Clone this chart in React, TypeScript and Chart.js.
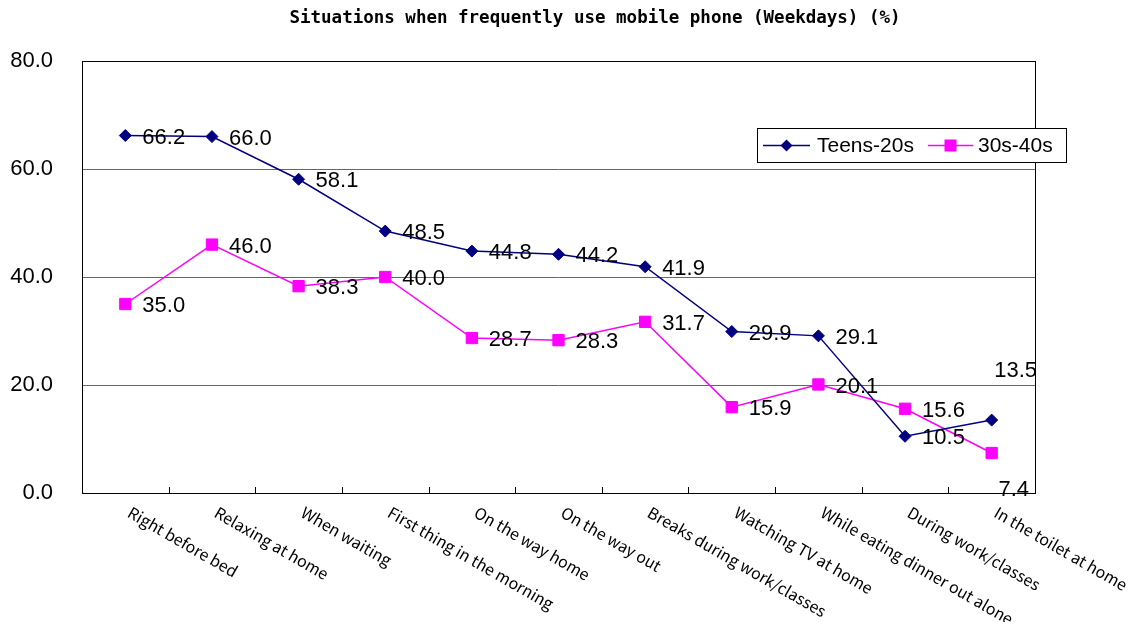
import React, { useEffect, useRef } from "react";
import { Chart, registerables } from "chart.js";

Chart.register(...registerables);

const titleText = "Situations when frequently use mobile phone (Weekdays) (%)";
const categories = [
  "Right before bed",
  "Relaxing at home",
  "When waiting",
  "First thing in the morning",
  "On the way home",
  "On the way out",
  "Breaks during work/classes",
  "Watching TV at home",
  "While eating dinner out alone",
  "During work/classes",
  "In the toilet at home",
];
const teensValues = [66.2, 66.0, 58.1, 48.5, 44.8, 44.2, 41.9, 29.9, 29.1, 10.5, 13.5];
const thirtiesValues = [35.0, 46.0, 38.3, 40.0, 28.7, 28.3, 31.7, 15.9, 20.1, 15.6, 7.4];
const seriesNames = ["Teens-20s", "30s-40s"];
const yMin = 0;
const yMax = 80;
const yStep = 20;

const NAVY = "#000080";
const MAGENTA = "#FF00FF";

const customPlugin = {
  id: "customDraw",
  beforeDatasetsDraw(chart: any) {
    const { ctx, chartArea } = chart;
    const xs = chart.scales.x;
    ctx.save();
    ctx.strokeStyle = "#000";
    ctx.lineWidth = 1;
    ctx.strokeRect(
      Math.round(chartArea.left) + 0.5,
      Math.round(chartArea.top) + 0.5,
      Math.round(chartArea.right - chartArea.left),
      Math.round(chartArea.bottom - chartArea.top)
    );
    for (let i = 1; i < categories.length; i++) {
      const x = Math.round(xs.getPixelForValue(i - 0.5)) + 0.5;
      ctx.beginPath();
      ctx.moveTo(x, chartArea.bottom);
      ctx.lineTo(x, chartArea.bottom - 6);
      ctx.stroke();
    }
    ctx.restore();
  },
  afterDatasetsDraw(chart: any) {
    const { ctx, chartArea } = chart;
    const xs = chart.scales.x;
    ctx.save();

    // data labels
    ctx.fillStyle = "#000";
    ctx.font = "22px 'Liberation Sans', Arial, sans-serif";
    chart.data.datasets.forEach((ds: any, di: number) => {
      const meta = chart.getDatasetMeta(di);
      meta.data.forEach((pt: any, i: number) => {
        const v = ds.data[i];
        const txt = v.toFixed(1);
        const last = i === ds.data.length - 1;
        if (last && di === 0) {
          ctx.textAlign = "center";
          ctx.textBaseline = "middle";
          ctx.fillText(txt, pt.x + 24, pt.y - 49);
        } else if (last && di === 1) {
          ctx.textAlign = "center";
          ctx.textBaseline = "middle";
          ctx.fillText(txt, pt.x + 22, pt.y + 37);
        } else {
          ctx.textAlign = "left";
          ctx.textBaseline = "middle";
          ctx.fillText(txt, pt.x + 17, pt.y + 2);
        }
      });
    });

    // x category labels, rotated clockwise
    ctx.font = "16px 'Noto Sans CJK JP', 'Noto Sans', sans-serif";
    ctx.textAlign = "left";
    ctx.textBaseline = "top";
    categories.forEach((c, i) => {
      const x = xs.getPixelForValue(i);
      ctx.save();
      ctx.translate(x + 8, chartArea.bottom + 11);
      ctx.rotate(Math.PI / 6);
      ctx.fillText(c, 0, 0);
      ctx.restore();
    });

    // title
    ctx.font = "bold 17.5px 'DejaVu Sans Mono', monospace";
    ctx.textAlign = "center";
    ctx.textBaseline = "middle";
    ctx.fillText(titleText, 587, 10);

    // legend
    const bx = 749.5, by = 120.5, bw = 309, bh = 34;
    ctx.fillStyle = "#fff";
    ctx.fillRect(bx, by, bw, bh);
    ctx.strokeStyle = "#000";
    ctx.lineWidth = 1;
    ctx.strokeRect(bx, by, bw, bh);
    const ly = by + bh / 2;
    const items = [
      { x0: 755, x1: 802, tx: 809 },
      { x0: 920, x1: 965, tx: 970 },
    ];
    chart.data.datasets.forEach((ds: any, di: number) => {
      const it = items[di];
      ctx.strokeStyle = ds.borderColor;
      ctx.lineWidth = 1.5;
      ctx.beginPath();
      ctx.moveTo(it.x0, ly);
      ctx.lineTo(it.x1, ly);
      ctx.stroke();
      const cx = (it.x0 + it.x1) / 2;
      ctx.fillStyle = ds.pointBackgroundColor;
      ctx.beginPath();
      if (ds.pointStyle === "rectRot") {
        const r = 6;
        ctx.moveTo(cx, ly - r);
        ctx.lineTo(cx + r, ly);
        ctx.lineTo(cx, ly + r);
        ctx.lineTo(cx - r, ly);
        ctx.closePath();
      } else {
        ctx.rect(cx - 6, ly - 6, 12, 12);
      }
      ctx.fill();
      ctx.fillStyle = "#000";
      ctx.font = "21px 'Liberation Sans', Arial, sans-serif";
      ctx.textAlign = "left";
      ctx.textBaseline = "middle";
      ctx.fillText(ds.label, it.tx, ly + 1);
    });

    ctx.restore();
  },
};

export default function App() {
  const canvasRef = useRef<HTMLCanvasElement | null>(null);

  useEffect(() => {
    if (!canvasRef.current) return;
    const chart = new Chart(canvasRef.current, {
      type: "line",
      data: {
        labels: categories,
        datasets: [
          {
            label: seriesNames[0],
            data: teensValues,
            borderColor: NAVY,
            backgroundColor: NAVY,
            pointBackgroundColor: NAVY,
            pointBorderColor: NAVY,
            pointStyle: "rectRot",
            pointRadius: 6,
            pointBorderWidth: 1,
            borderWidth: 1.5,
            tension: 0,
          },
          {
            label: seriesNames[1],
            data: thirtiesValues,
            borderColor: MAGENTA,
            backgroundColor: MAGENTA,
            pointBackgroundColor: MAGENTA,
            pointBorderColor: MAGENTA,
            pointStyle: "rect",
            pointRadius: 8,
            pointBorderWidth: 1,
            borderWidth: 1.5,
            tension: 0,
          },
        ],
      },
      options: {
        animation: false,
        responsive: true,
        maintainAspectRatio: false,
        layout: { padding: { top: 53, right: 98, left: 0, bottom: 0 } },
        plugins: {
          legend: { display: false },
          title: { display: false },
          tooltip: { enabled: false },
        },
        scales: {
          x: {
            type: "category",
            offset: true,
            grid: { display: false },
            border: { display: false },
            ticks: { display: false },
            afterFit: (s: any) => {
              s.height = 129;
            },
          },
          y: {
            min: yMin,
            max: yMax,
            ticks: {
              stepSize: yStep,
              color: "#000",
              padding: 29,
              font: { family: "'Liberation Sans', Arial, sans-serif", size: 22 },
              callback: (v: any) => Number(v).toFixed(1),
            },
            grid: {
              drawTicks: false,
              color: (c: any) =>
                c.tick && (c.tick.value === yMin || c.tick.value === yMax) ? "rgba(0,0,0,0)" : "#666",
              lineWidth: 1,
            },
            border: { display: false },
            afterFit: (s: any) => {
              s.width = 74;
            },
          },
        },
      },
      plugins: [customPlugin],
    });
    return () => chart.destroy();
  }, []);

  return (
    <div style={{ width: 1125, height: 614, position: "relative" }}>
      <canvas ref={canvasRef} />
    </div>
  );
}
